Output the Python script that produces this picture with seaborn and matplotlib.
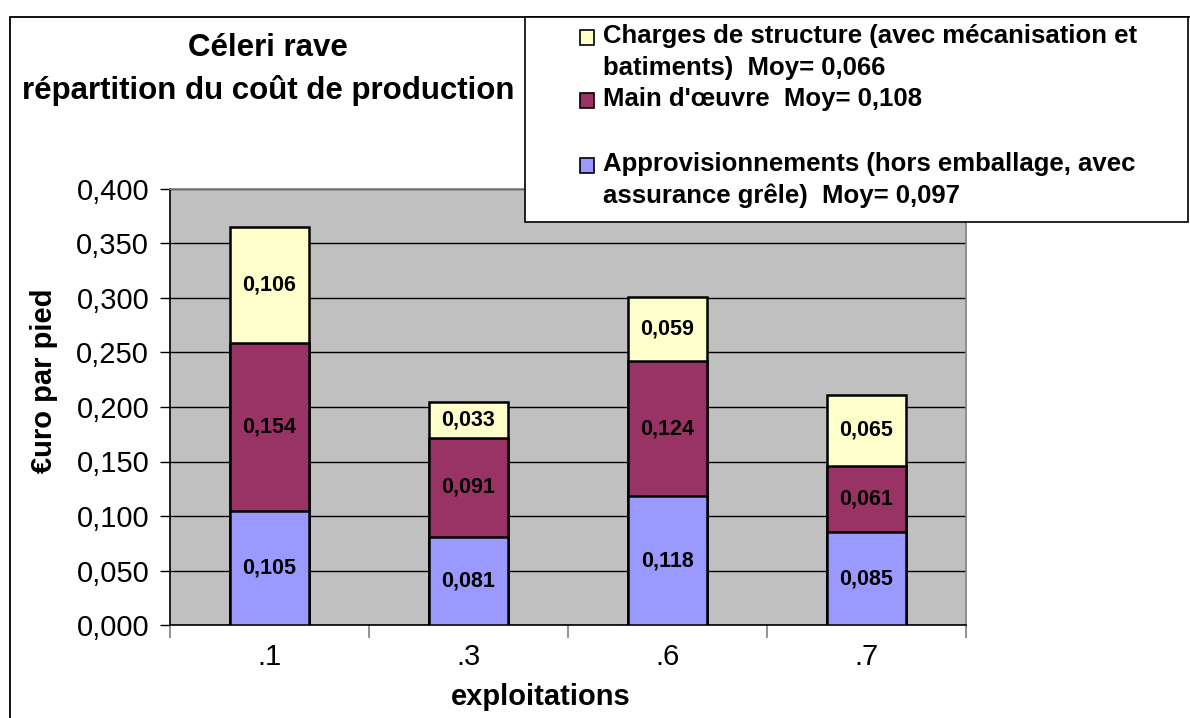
import numpy as np
import pandas as pd
import matplotlib
matplotlib.use("Agg")
import matplotlib.pyplot as plt
from matplotlib.patches import Rectangle
import seaborn as sns

# Data
exploitations = ['.1', '.3', '.6', '.7']
approvisionnements = [0.105, 0.081, 0.118, 0.085]
main_oeuvre = [0.154, 0.091, 0.124, 0.061]
charges_structure = [0.106, 0.033, 0.059, 0.065]

series_names = [
    "Approvisionnements (hors emballage, avec\nassurance grêle)  Moy= 0,097",
    "Main d'œuvre  Moy= 0,108",
    "Charges de structure (avec mécanisation et\nbatiments)  Moy= 0,066",
]
series_colors = ['#9999FF', '#993366', '#FFFFCC']

yticks = [0.0, 0.05, 0.10, 0.15, 0.20, 0.25, 0.30, 0.35, 0.40]

sns.set_theme(style="white")
plt.rcParams['font.family'] = ['Liberation Sans', 'DejaVu Sans']
plt.rcParams['text.color'] = 'black'
plt.rcParams['axes.labelcolor'] = 'black'
plt.rcParams['xtick.color'] = 'black'
plt.rcParams['ytick.color'] = 'black'

df = pd.DataFrame({
    'exploitation': exploitations,
    'appro': approvisionnements,
    'main': main_oeuvre,
    'charges': charges_structure,
})
df['cum1'] = df['appro']
df['cum2'] = df['appro'] + df['main']
df['cum3'] = df['cum2'] + df['charges']

fig = plt.figure(figsize=(11.9, 7.18), dpi=100)
ax = fig.add_axes([170 / 1190, 1 - 625 / 718, 796 / 1190, 436 / 718])
ax.set_facecolor('#C0C0C0')

# stacked bars drawn as overlapping cumulative totals (top layer first)
for col, color in zip(['cum3', 'cum2', 'cum1'], series_colors[::-1]):
    sns.barplot(data=df, x='exploitation', y=col, color=color, width=0.4,
                edgecolor='black', linewidth=1.8, saturation=1, ax=ax, zorder=3)

# segment labels
segments = [('appro', 'cum1'), ('main', 'cum2'), ('charges', 'cum3')]
for i in range(len(df)):
    for val_col, cum_col in segments:
        v = df.loc[i, val_col]
        top = df.loc[i, cum_col]
        ax.text(i, top - v / 2, f"{v:.3f}".replace('.', ','), ha='center', va='center',
                fontsize=15.5, fontweight='bold', color='black', zorder=5)

ax.set_ylim(0, 0.4)
ax.set_xlim(-0.5, len(exploitations) - 0.5)
ax.set_yticks(yticks)
ax.set_yticklabels([f"{t:.3f}".replace('.', ',') for t in yticks])
ax.yaxis.grid(True, color='black', linewidth=1)
ax.xaxis.grid(False)
ax.set_axisbelow(True)

ax.set_xticks(range(len(exploitations)))
ax.set_xticklabels(exploitations)
ax.set_xticks(np.arange(-0.5, len(exploitations), 1.0), minor=True)
ax.tick_params(axis='x', which='major', length=0, pad=13, labelsize=21)
ax.tick_params(axis='x', which='minor', length=9, width=1.2, color='#808080', direction='out', bottom=True)
ax.tick_params(axis='y', which='major', length=7, width=1, color='black', direction='out',
               left=True, pad=8, labelsize=21)

for side in ['left', 'bottom']:
    ax.spines[side].set_color('black')
    ax.spines[side].set_linewidth(1.2)
for side in ['top', 'right']:
    ax.spines[side].set_color('#808080')
    ax.spines[side].set_linewidth(1.2)

ax.set_xlabel('exploitations', fontsize=21, fontweight='bold')
ax.xaxis.set_label_coords(0.466, -0.165)
ax.xaxis.label.set_va('center')
ax.set_ylabel('€uro par pied', fontsize=21, fontweight='bold')
ax.yaxis.set_label_coords(-0.158, 0.56)
ax.yaxis.label.set_va('center')

# outer chart border
fig.patches.append(Rectangle((10 / 1190, -0.05), 1.0, 0.05 + 1 - 17 / 718, transform=fig.transFigure,
                             fill=False, edgecolor='black', linewidth=1.3))

# title
fig.text(268 / 1190, 1 - 70 / 718, 'Céleri rave\nrépartition du coût de production',
         ha='center', va='center', fontsize=22.5, fontweight='bold', linespacing=1.5)

# legend box
fig.patches.append(Rectangle((525 / 1190, 1 - 222 / 718), (1188 - 525) / 1190, (222 - 17) / 718,
                             transform=fig.transFigure, facecolor='white', edgecolor='black',
                             linewidth=1.2, zorder=10))
legend_rows = [38, 101, 166]
for name, color, row in zip(series_names[::-1], series_colors[::-1], legend_rows):
    fig.patches.append(Rectangle((580 / 1190, 1 - (row + 7) / 718), 14 / 1190, 15 / 718,
                                 transform=fig.transFigure, facecolor=color, edgecolor='black',
                                 linewidth=1.2, zorder=11))
    fig.text(603 / 1190, 1 - (row - 14) / 718, name, ha='left', va='top', fontsize=18.5,
             fontweight='bold', linespacing=1.4, zorder=12)

fig.savefig('out.png', dpi=100)
